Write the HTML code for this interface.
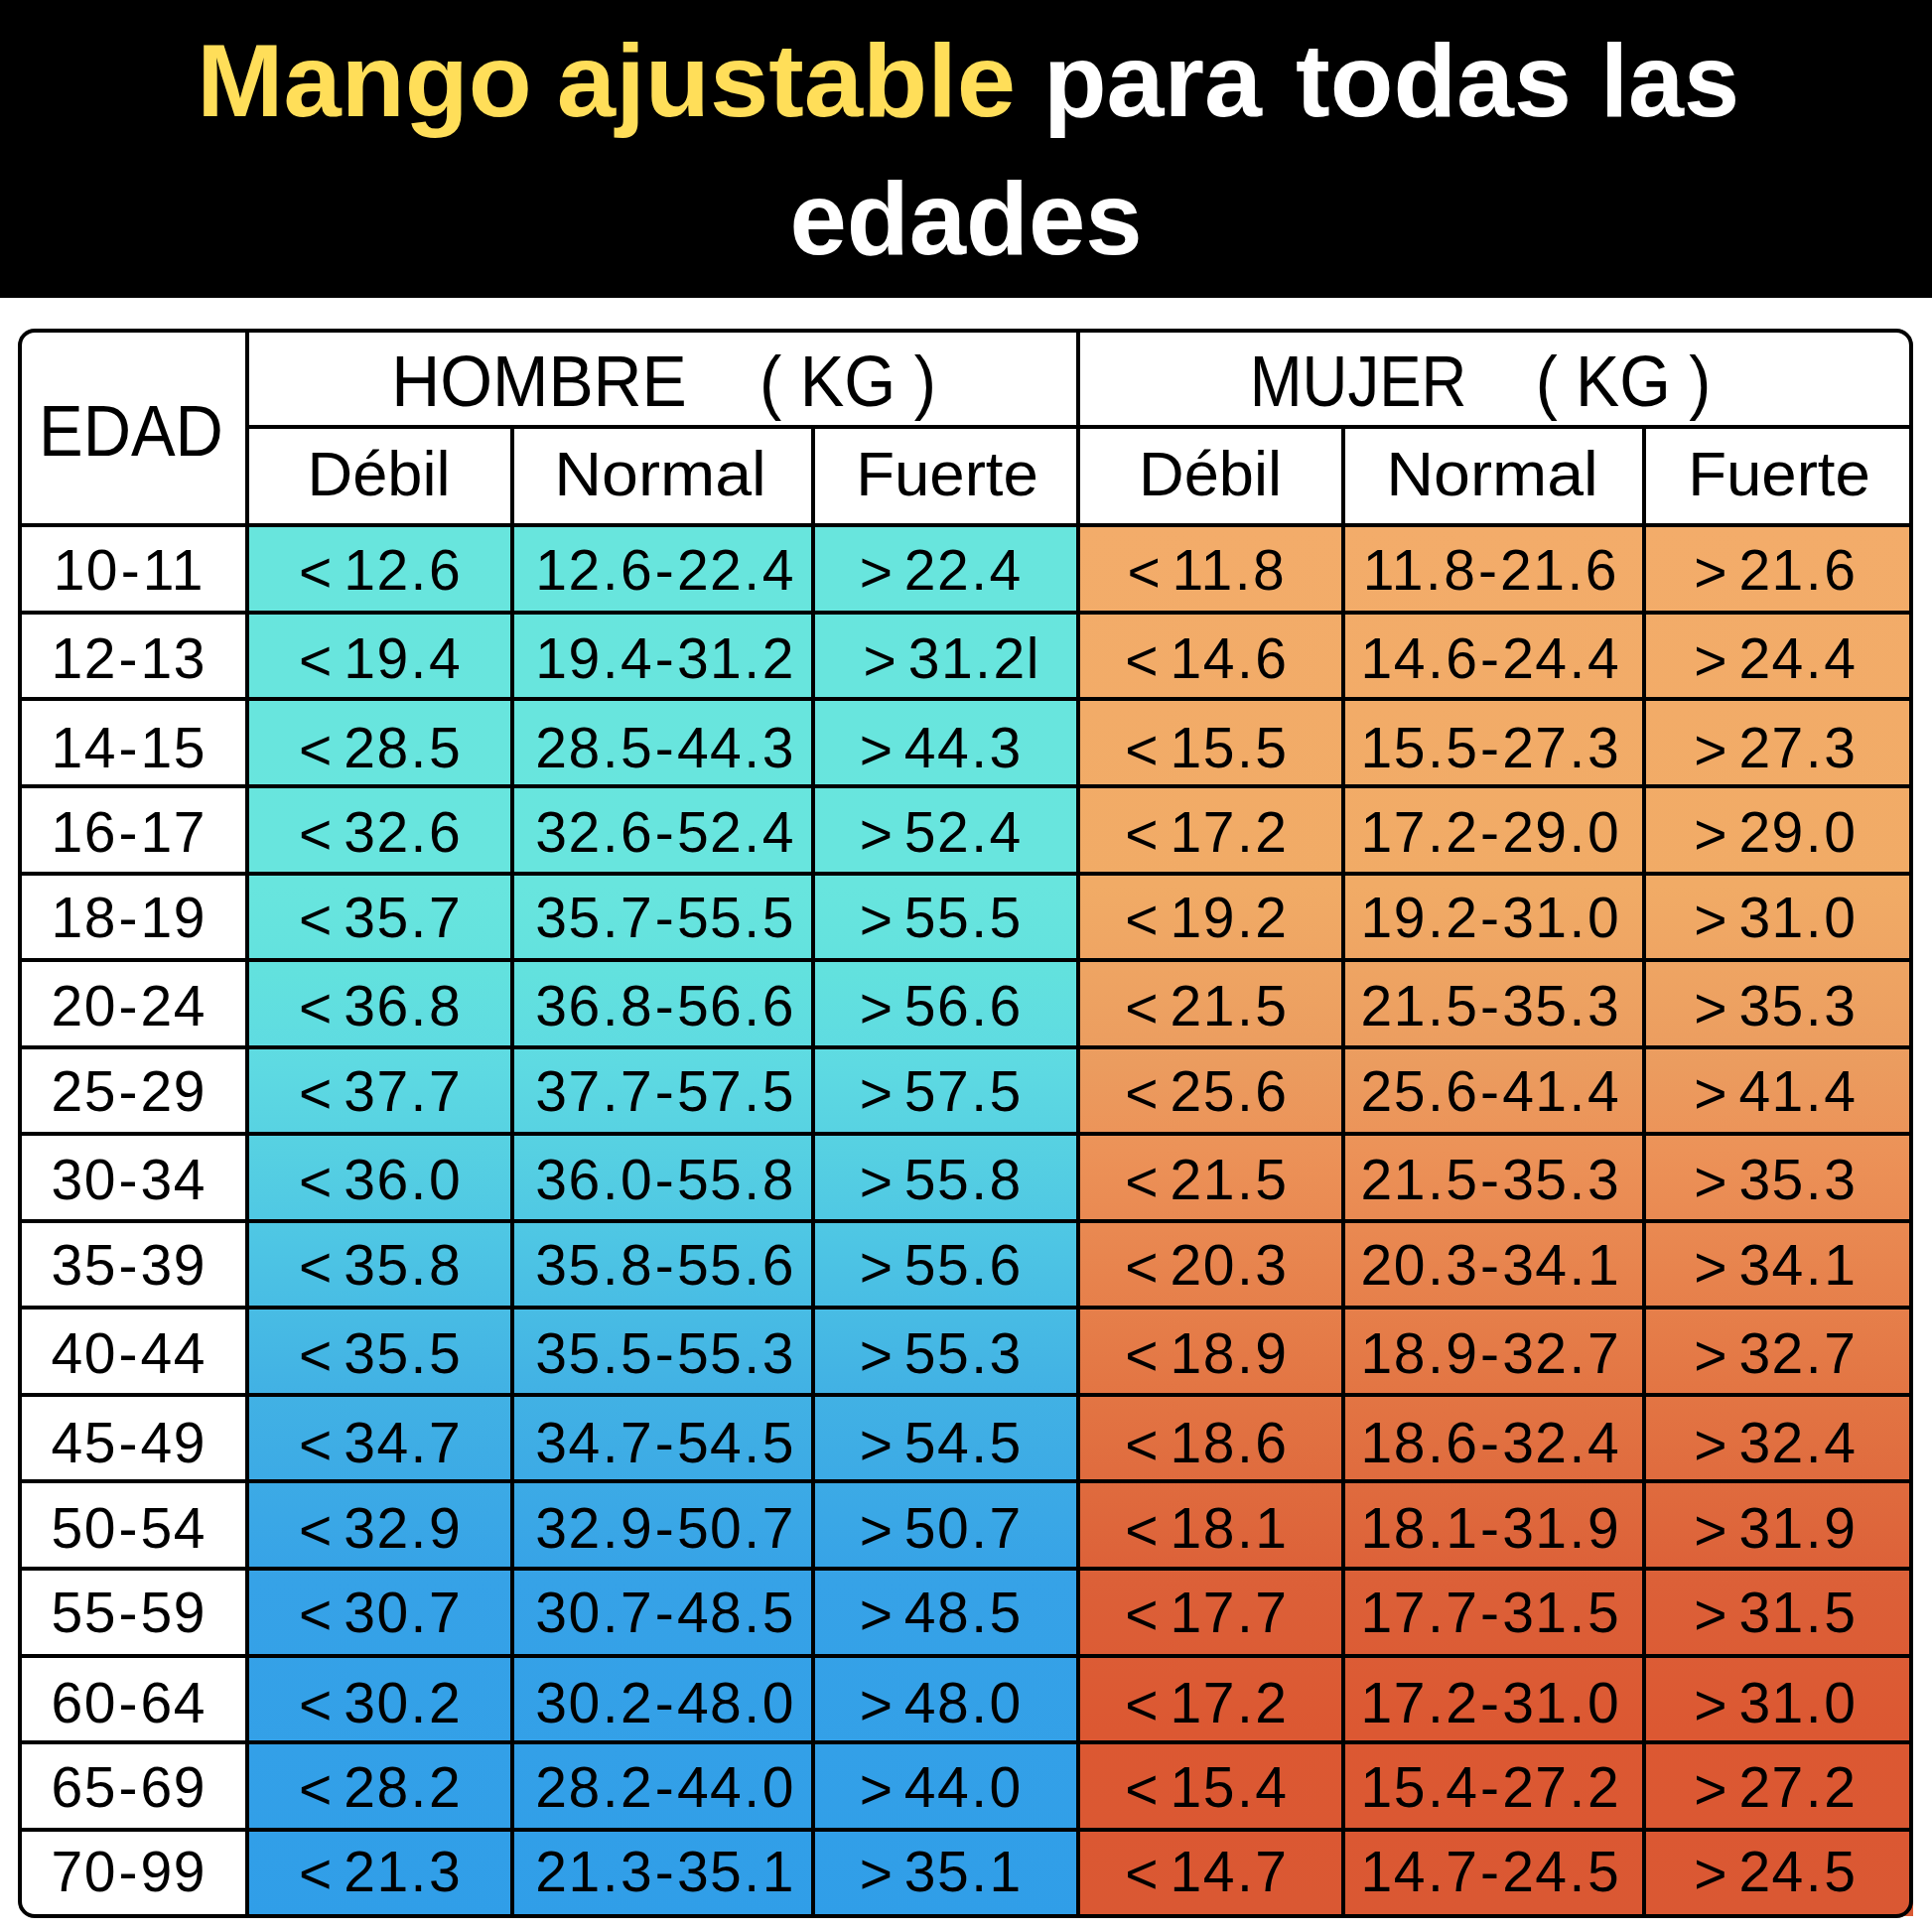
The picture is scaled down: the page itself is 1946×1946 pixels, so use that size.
<!DOCTYPE html><html><head><meta charset="utf-8"><style>
html,body{margin:0;padding:0;background:#fff;}
body{width:1946px;height:1946px;position:relative;overflow:hidden;font-family:"Liberation Sans",sans-serif;}
.t{position:absolute;text-align:center;white-space:pre;color:#000;transform-origin:50% 50%;}
.ln{position:absolute;background:#000;}
.p{margin:0 1.0px}.h{margin:0 1.6px}.sp{margin-right:-7px}.g{position:relative;top:2px}
</style></head><body>
<div style="position:absolute;left:0;top:0;width:1946px;height:299.5px;background:#000"></div>
<div style="position:absolute;left:17.5px;top:330.8px;width:1909.25px;height:1601.5px;border-radius:17px;overflow:hidden;background:#fff">
<div style="position:absolute;left:231.5px;top:198.49999999999994px;width:836.9000000000001px;height:1403.0px;background:linear-gradient(#68e5dd 0%,#68e5de 26%,#62e1de 32.3%,#5edae2 38.7%,#56d0e2 45%,#4ec6e4 51.2%,#42b2e4 61.7%,#36a2e7 76%,#309ee8 100%)"></div>
</div>
<div style="position:absolute;left:1085.9px;top:529.3px;width:840.8499999999999px;height:1401.0px;background:linear-gradient(#f3ac6a 0%,#f1ab66 26%,#eb9c5f 38.7%,#ec9258 45%,#e37644 61.7%,#dc6038 76%,#dc5832 86.6%,#da5833 100%)"></div>
<div style="position:absolute;left:17.5px;top:330.8px;width:1909.25px;height:1601.5px;border-radius:17px;box-sizing:border-box;border:4px solid #000"></div>
<div class="ln" style="left:247.00px;top:330.80px;width:4px;height:1601.50px"></div>
<div class="ln" style="left:1083.90px;top:330.80px;width:4px;height:1601.50px"></div>
<div class="ln" style="left:513.70px;top:430.10px;width:4px;height:1502.20px"></div>
<div class="ln" style="left:817.00px;top:430.10px;width:4px;height:1502.20px"></div>
<div class="ln" style="left:1350.60px;top:430.10px;width:4px;height:1502.20px"></div>
<div class="ln" style="left:1654.10px;top:430.10px;width:4px;height:1502.20px"></div>
<div class="ln" style="left:249.00px;top:428.10px;width:1677.75px;height:4px"></div>
<div class="ln" style="left:17.50px;top:527.30px;width:1909.25px;height:4px"></div>
<div class="ln" style="left:17.50px;top:614.86px;width:1909.25px;height:4px"></div>
<div class="ln" style="left:17.50px;top:702.42px;width:1909.25px;height:4px"></div>
<div class="ln" style="left:17.50px;top:789.99px;width:1909.25px;height:4px"></div>
<div class="ln" style="left:17.50px;top:877.55px;width:1909.25px;height:4px"></div>
<div class="ln" style="left:17.50px;top:965.11px;width:1909.25px;height:4px"></div>
<div class="ln" style="left:17.50px;top:1052.67px;width:1909.25px;height:4px"></div>
<div class="ln" style="left:17.50px;top:1140.24px;width:1909.25px;height:4px"></div>
<div class="ln" style="left:17.50px;top:1227.80px;width:1909.25px;height:4px"></div>
<div class="ln" style="left:17.50px;top:1315.36px;width:1909.25px;height:4px"></div>
<div class="ln" style="left:17.50px;top:1402.92px;width:1909.25px;height:4px"></div>
<div class="ln" style="left:17.50px;top:1490.49px;width:1909.25px;height:4px"></div>
<div class="ln" style="left:17.50px;top:1578.05px;width:1909.25px;height:4px"></div>
<div class="ln" style="left:17.50px;top:1665.61px;width:1909.25px;height:4px"></div>
<div class="ln" style="left:17.50px;top:1753.17px;width:1909.25px;height:4px"></div>
<div class="ln" style="left:17.50px;top:1840.74px;width:1909.25px;height:4px"></div>
<div class="t" style="left:92.85px;top:348.23px;width:900px;font-size:72.5px;line-height:72.5px;letter-spacing:0px;transform:scaleX(0.9354213755247015);">HOMBRE</div>
<div class="t" style="left:403.60px;top:348.23px;width:900px;font-size:72.5px;line-height:72.5px;letter-spacing:0px;transform:scaleX(0.9217391304347827);">( KG )</div>
<div class="t" style="left:917.90px;top:348.23px;width:900px;font-size:72.5px;line-height:72.5px;letter-spacing:0px;transform:scaleX(0.8758333333333336);">MUJER</div>
<div class="t" style="left:1184.70px;top:348.23px;width:900px;font-size:72.5px;line-height:72.5px;letter-spacing:0px;transform:scaleX(0.9141304347826089);">( KG )</div>
<div class="t" style="left:-317.90px;top:397.53px;width:900px;font-size:72.5px;line-height:72.5px;letter-spacing:0px;transform:scaleX(0.9227557411273487);">EDAD</div>
<div class="t" style="left:-68.45px;top:446.20px;width:900px;font-size:63.2px;line-height:63.2px;letter-spacing:0px;">Débil</div>
<div class="t" style="left:215.20px;top:446.20px;width:900px;font-size:63.2px;line-height:63.2px;letter-spacing:0px;transform:scaleX(1.049);">Normal</div>
<div class="t" style="left:504.30px;top:446.20px;width:900px;font-size:63.2px;line-height:63.2px;letter-spacing:0px;transform:scaleX(1.006);">Fuerte</div>
<div class="t" style="left:769.00px;top:446.20px;width:900px;font-size:63.2px;line-height:63.2px;letter-spacing:0px;">Débil</div>
<div class="t" style="left:1053.25px;top:446.20px;width:900px;font-size:63.2px;line-height:63.2px;letter-spacing:0px;transform:scaleX(1.049);">Normal</div>
<div class="t" style="left:1341.83px;top:446.20px;width:900px;font-size:63.2px;line-height:63.2px;letter-spacing:0px;transform:scaleX(1.006);">Fuerte</div>
<div class="t" style="left:-320.25px;top:545.53px;width:900px;font-size:57px;line-height:57px;letter-spacing:1.5px;">10<span class="h">-</span>11</div>
<div class="t" style="left:-66.90px;top:545.53px;width:900px;font-size:57px;line-height:57px;letter-spacing:1.5px;"><span class="g">&lt;</span><span class="sp"> </span>12<span class="p">.</span>6</div>
<div class="t" style="left:220.10px;top:545.53px;width:900px;font-size:57px;line-height:57px;letter-spacing:1.5px;">12<span class="p">.</span>6<span class="h">-</span>22<span class="p">.</span>4</div>
<div class="t" style="left:497.70px;top:545.53px;width:900px;font-size:57px;line-height:57px;letter-spacing:1.5px;"><span class="g">&gt;</span><span class="sp"> </span>22<span class="p">.</span>4</div>
<div class="t" style="left:765.40px;top:545.53px;width:900px;font-size:57px;line-height:57px;letter-spacing:1.5px;"><span class="g">&lt;</span><span class="sp"> </span>11<span class="p">.</span>8</div>
<div class="t" style="left:1051.35px;top:545.53px;width:900px;font-size:57px;line-height:57px;letter-spacing:1.5px;">11<span class="p">.</span>8<span class="h">-</span>21<span class="p">.</span>6</div>
<div class="t" style="left:1338.33px;top:545.53px;width:900px;font-size:57px;line-height:57px;letter-spacing:1.5px;"><span class="g">&gt;</span><span class="sp"> </span>21<span class="p">.</span>6</div>
<div class="t" style="left:-320.25px;top:635.39px;width:900px;font-size:57px;line-height:57px;letter-spacing:1.5px;">12<span class="h">-</span>13</div>
<div class="t" style="left:-66.90px;top:635.39px;width:900px;font-size:57px;line-height:57px;letter-spacing:1.5px;"><span class="g">&lt;</span><span class="sp"> </span>19<span class="p">.</span>4</div>
<div class="t" style="left:220.10px;top:635.39px;width:900px;font-size:57px;line-height:57px;letter-spacing:1.5px;">19<span class="p">.</span>4<span class="h">-</span>31<span class="p">.</span>2</div>
<div class="t" style="left:508.70px;top:635.39px;width:900px;font-size:57px;line-height:57px;letter-spacing:1.5px;"><span class="g">&gt;</span><span class="sp"> </span>31<span class="p">.</span>2l</div>
<div class="t" style="left:765.40px;top:635.39px;width:900px;font-size:57px;line-height:57px;letter-spacing:1.5px;"><span class="g">&lt;</span><span class="sp"> </span>14<span class="p">.</span>6</div>
<div class="t" style="left:1051.35px;top:635.39px;width:900px;font-size:57px;line-height:57px;letter-spacing:1.5px;">14<span class="p">.</span>6<span class="h">-</span>24<span class="p">.</span>4</div>
<div class="t" style="left:1338.33px;top:635.39px;width:900px;font-size:57px;line-height:57px;letter-spacing:1.5px;"><span class="g">&gt;</span><span class="sp"> </span>24<span class="p">.</span>4</div>
<div class="t" style="left:-320.25px;top:724.76px;width:900px;font-size:57px;line-height:57px;letter-spacing:1.5px;">14<span class="h">-</span>15</div>
<div class="t" style="left:-66.90px;top:724.76px;width:900px;font-size:57px;line-height:57px;letter-spacing:1.5px;"><span class="g">&lt;</span><span class="sp"> </span>28<span class="p">.</span>5</div>
<div class="t" style="left:220.10px;top:724.76px;width:900px;font-size:57px;line-height:57px;letter-spacing:1.5px;">28<span class="p">.</span>5<span class="h">-</span>44<span class="p">.</span>3</div>
<div class="t" style="left:497.70px;top:724.76px;width:900px;font-size:57px;line-height:57px;letter-spacing:1.5px;"><span class="g">&gt;</span><span class="sp"> </span>44<span class="p">.</span>3</div>
<div class="t" style="left:765.40px;top:724.76px;width:900px;font-size:57px;line-height:57px;letter-spacing:1.5px;"><span class="g">&lt;</span><span class="sp"> </span>15<span class="p">.</span>5</div>
<div class="t" style="left:1051.35px;top:724.76px;width:900px;font-size:57px;line-height:57px;letter-spacing:1.5px;">15<span class="p">.</span>5<span class="h">-</span>27<span class="p">.</span>3</div>
<div class="t" style="left:1338.33px;top:724.76px;width:900px;font-size:57px;line-height:57px;letter-spacing:1.5px;"><span class="g">&gt;</span><span class="sp"> </span>27<span class="p">.</span>3</div>
<div class="t" style="left:-320.25px;top:809.52px;width:900px;font-size:57px;line-height:57px;letter-spacing:1.5px;">16<span class="h">-</span>17</div>
<div class="t" style="left:-66.90px;top:809.52px;width:900px;font-size:57px;line-height:57px;letter-spacing:1.5px;"><span class="g">&lt;</span><span class="sp"> </span>32<span class="p">.</span>6</div>
<div class="t" style="left:220.10px;top:809.52px;width:900px;font-size:57px;line-height:57px;letter-spacing:1.5px;">32<span class="p">.</span>6<span class="h">-</span>52<span class="p">.</span>4</div>
<div class="t" style="left:497.70px;top:809.52px;width:900px;font-size:57px;line-height:57px;letter-spacing:1.5px;"><span class="g">&gt;</span><span class="sp"> </span>52<span class="p">.</span>4</div>
<div class="t" style="left:765.40px;top:809.52px;width:900px;font-size:57px;line-height:57px;letter-spacing:1.5px;"><span class="g">&lt;</span><span class="sp"> </span>17<span class="p">.</span>2</div>
<div class="t" style="left:1051.35px;top:809.52px;width:900px;font-size:57px;line-height:57px;letter-spacing:1.5px;">17<span class="p">.</span>2<span class="h">-</span>29<span class="p">.</span>0</div>
<div class="t" style="left:1338.33px;top:809.52px;width:900px;font-size:57px;line-height:57px;letter-spacing:1.5px;"><span class="g">&gt;</span><span class="sp"> </span>29<span class="p">.</span>0</div>
<div class="t" style="left:-320.25px;top:896.18px;width:900px;font-size:57px;line-height:57px;letter-spacing:1.5px;">18<span class="h">-</span>19</div>
<div class="t" style="left:-66.90px;top:896.18px;width:900px;font-size:57px;line-height:57px;letter-spacing:1.5px;"><span class="g">&lt;</span><span class="sp"> </span>35<span class="p">.</span>7</div>
<div class="t" style="left:220.10px;top:896.18px;width:900px;font-size:57px;line-height:57px;letter-spacing:1.5px;">35<span class="p">.</span>7<span class="h">-</span>55<span class="p">.</span>5</div>
<div class="t" style="left:497.70px;top:896.18px;width:900px;font-size:57px;line-height:57px;letter-spacing:1.5px;"><span class="g">&gt;</span><span class="sp"> </span>55<span class="p">.</span>5</div>
<div class="t" style="left:765.40px;top:896.18px;width:900px;font-size:57px;line-height:57px;letter-spacing:1.5px;"><span class="g">&lt;</span><span class="sp"> </span>19<span class="p">.</span>2</div>
<div class="t" style="left:1051.35px;top:896.18px;width:900px;font-size:57px;line-height:57px;letter-spacing:1.5px;">19<span class="p">.</span>2<span class="h">-</span>31<span class="p">.</span>0</div>
<div class="t" style="left:1338.33px;top:896.18px;width:900px;font-size:57px;line-height:57px;letter-spacing:1.5px;"><span class="g">&gt;</span><span class="sp"> </span>31<span class="p">.</span>0</div>
<div class="t" style="left:-320.25px;top:984.84px;width:900px;font-size:57px;line-height:57px;letter-spacing:1.5px;">20<span class="h">-</span>24</div>
<div class="t" style="left:-66.90px;top:984.84px;width:900px;font-size:57px;line-height:57px;letter-spacing:1.5px;"><span class="g">&lt;</span><span class="sp"> </span>36<span class="p">.</span>8</div>
<div class="t" style="left:220.10px;top:984.84px;width:900px;font-size:57px;line-height:57px;letter-spacing:1.5px;">36<span class="p">.</span>8<span class="h">-</span>56<span class="p">.</span>6</div>
<div class="t" style="left:497.70px;top:984.84px;width:900px;font-size:57px;line-height:57px;letter-spacing:1.5px;"><span class="g">&gt;</span><span class="sp"> </span>56<span class="p">.</span>6</div>
<div class="t" style="left:765.40px;top:984.84px;width:900px;font-size:57px;line-height:57px;letter-spacing:1.5px;"><span class="g">&lt;</span><span class="sp"> </span>21<span class="p">.</span>5</div>
<div class="t" style="left:1051.35px;top:984.84px;width:900px;font-size:57px;line-height:57px;letter-spacing:1.5px;">21<span class="p">.</span>5<span class="h">-</span>35<span class="p">.</span>3</div>
<div class="t" style="left:1338.33px;top:984.84px;width:900px;font-size:57px;line-height:57px;letter-spacing:1.5px;"><span class="g">&gt;</span><span class="sp"> </span>35<span class="p">.</span>3</div>
<div class="t" style="left:-320.25px;top:1070.81px;width:900px;font-size:57px;line-height:57px;letter-spacing:1.5px;">25<span class="h">-</span>29</div>
<div class="t" style="left:-66.90px;top:1070.81px;width:900px;font-size:57px;line-height:57px;letter-spacing:1.5px;"><span class="g">&lt;</span><span class="sp"> </span>37<span class="p">.</span>7</div>
<div class="t" style="left:220.10px;top:1070.81px;width:900px;font-size:57px;line-height:57px;letter-spacing:1.5px;">37<span class="p">.</span>7<span class="h">-</span>57<span class="p">.</span>5</div>
<div class="t" style="left:497.70px;top:1070.81px;width:900px;font-size:57px;line-height:57px;letter-spacing:1.5px;"><span class="g">&gt;</span><span class="sp"> </span>57<span class="p">.</span>5</div>
<div class="t" style="left:765.40px;top:1070.81px;width:900px;font-size:57px;line-height:57px;letter-spacing:1.5px;"><span class="g">&lt;</span><span class="sp"> </span>25<span class="p">.</span>6</div>
<div class="t" style="left:1051.35px;top:1070.81px;width:900px;font-size:57px;line-height:57px;letter-spacing:1.5px;">25<span class="p">.</span>6<span class="h">-</span>41<span class="p">.</span>4</div>
<div class="t" style="left:1338.33px;top:1070.81px;width:900px;font-size:57px;line-height:57px;letter-spacing:1.5px;"><span class="g">&gt;</span><span class="sp"> </span>41<span class="p">.</span>4</div>
<div class="t" style="left:-320.25px;top:1160.27px;width:900px;font-size:57px;line-height:57px;letter-spacing:1.5px;">30<span class="h">-</span>34</div>
<div class="t" style="left:-66.90px;top:1160.27px;width:900px;font-size:57px;line-height:57px;letter-spacing:1.5px;"><span class="g">&lt;</span><span class="sp"> </span>36<span class="p">.</span>0</div>
<div class="t" style="left:220.10px;top:1160.27px;width:900px;font-size:57px;line-height:57px;letter-spacing:1.5px;">36<span class="p">.</span>0<span class="h">-</span>55<span class="p">.</span>8</div>
<div class="t" style="left:497.70px;top:1160.27px;width:900px;font-size:57px;line-height:57px;letter-spacing:1.5px;"><span class="g">&gt;</span><span class="sp"> </span>55<span class="p">.</span>8</div>
<div class="t" style="left:765.40px;top:1160.27px;width:900px;font-size:57px;line-height:57px;letter-spacing:1.5px;"><span class="g">&lt;</span><span class="sp"> </span>21<span class="p">.</span>5</div>
<div class="t" style="left:1051.35px;top:1160.27px;width:900px;font-size:57px;line-height:57px;letter-spacing:1.5px;">21<span class="p">.</span>5<span class="h">-</span>35<span class="p">.</span>3</div>
<div class="t" style="left:1338.33px;top:1160.27px;width:900px;font-size:57px;line-height:57px;letter-spacing:1.5px;"><span class="g">&gt;</span><span class="sp"> </span>35<span class="p">.</span>3</div>
<div class="t" style="left:-320.25px;top:1246.43px;width:900px;font-size:57px;line-height:57px;letter-spacing:1.5px;">35<span class="h">-</span>39</div>
<div class="t" style="left:-66.90px;top:1246.43px;width:900px;font-size:57px;line-height:57px;letter-spacing:1.5px;"><span class="g">&lt;</span><span class="sp"> </span>35<span class="p">.</span>8</div>
<div class="t" style="left:220.10px;top:1246.43px;width:900px;font-size:57px;line-height:57px;letter-spacing:1.5px;">35<span class="p">.</span>8<span class="h">-</span>55<span class="p">.</span>6</div>
<div class="t" style="left:497.70px;top:1246.43px;width:900px;font-size:57px;line-height:57px;letter-spacing:1.5px;"><span class="g">&gt;</span><span class="sp"> </span>55<span class="p">.</span>6</div>
<div class="t" style="left:765.40px;top:1246.43px;width:900px;font-size:57px;line-height:57px;letter-spacing:1.5px;"><span class="g">&lt;</span><span class="sp"> </span>20<span class="p">.</span>3</div>
<div class="t" style="left:1051.35px;top:1246.43px;width:900px;font-size:57px;line-height:57px;letter-spacing:1.5px;">20<span class="p">.</span>3<span class="h">-</span>34<span class="p">.</span>1</div>
<div class="t" style="left:1338.33px;top:1246.43px;width:900px;font-size:57px;line-height:57px;letter-spacing:1.5px;"><span class="g">&gt;</span><span class="sp"> </span>34<span class="p">.</span>1</div>
<div class="t" style="left:-320.25px;top:1335.39px;width:900px;font-size:57px;line-height:57px;letter-spacing:1.5px;">40<span class="h">-</span>44</div>
<div class="t" style="left:-66.90px;top:1335.39px;width:900px;font-size:57px;line-height:57px;letter-spacing:1.5px;"><span class="g">&lt;</span><span class="sp"> </span>35<span class="p">.</span>5</div>
<div class="t" style="left:220.10px;top:1335.39px;width:900px;font-size:57px;line-height:57px;letter-spacing:1.5px;">35<span class="p">.</span>5<span class="h">-</span>55<span class="p">.</span>3</div>
<div class="t" style="left:497.70px;top:1335.39px;width:900px;font-size:57px;line-height:57px;letter-spacing:1.5px;"><span class="g">&gt;</span><span class="sp"> </span>55<span class="p">.</span>3</div>
<div class="t" style="left:765.40px;top:1335.39px;width:900px;font-size:57px;line-height:57px;letter-spacing:1.5px;"><span class="g">&lt;</span><span class="sp"> </span>18<span class="p">.</span>9</div>
<div class="t" style="left:1051.35px;top:1335.39px;width:900px;font-size:57px;line-height:57px;letter-spacing:1.5px;">18<span class="p">.</span>9<span class="h">-</span>32<span class="p">.</span>7</div>
<div class="t" style="left:1338.33px;top:1335.39px;width:900px;font-size:57px;line-height:57px;letter-spacing:1.5px;"><span class="g">&gt;</span><span class="sp"> </span>32<span class="p">.</span>7</div>
<div class="t" style="left:-320.25px;top:1425.16px;width:900px;font-size:57px;line-height:57px;letter-spacing:1.5px;">45<span class="h">-</span>49</div>
<div class="t" style="left:-66.90px;top:1425.16px;width:900px;font-size:57px;line-height:57px;letter-spacing:1.5px;"><span class="g">&lt;</span><span class="sp"> </span>34<span class="p">.</span>7</div>
<div class="t" style="left:220.10px;top:1425.16px;width:900px;font-size:57px;line-height:57px;letter-spacing:1.5px;">34<span class="p">.</span>7<span class="h">-</span>54<span class="p">.</span>5</div>
<div class="t" style="left:497.70px;top:1425.16px;width:900px;font-size:57px;line-height:57px;letter-spacing:1.5px;"><span class="g">&gt;</span><span class="sp"> </span>54<span class="p">.</span>5</div>
<div class="t" style="left:765.40px;top:1425.16px;width:900px;font-size:57px;line-height:57px;letter-spacing:1.5px;"><span class="g">&lt;</span><span class="sp"> </span>18<span class="p">.</span>6</div>
<div class="t" style="left:1051.35px;top:1425.16px;width:900px;font-size:57px;line-height:57px;letter-spacing:1.5px;">18<span class="p">.</span>6<span class="h">-</span>32<span class="p">.</span>4</div>
<div class="t" style="left:1338.33px;top:1425.16px;width:900px;font-size:57px;line-height:57px;letter-spacing:1.5px;"><span class="g">&gt;</span><span class="sp"> </span>32<span class="p">.</span>4</div>
<div class="t" style="left:-320.25px;top:1511.32px;width:900px;font-size:57px;line-height:57px;letter-spacing:1.5px;">50<span class="h">-</span>54</div>
<div class="t" style="left:-66.90px;top:1511.32px;width:900px;font-size:57px;line-height:57px;letter-spacing:1.5px;"><span class="g">&lt;</span><span class="sp"> </span>32<span class="p">.</span>9</div>
<div class="t" style="left:220.10px;top:1511.32px;width:900px;font-size:57px;line-height:57px;letter-spacing:1.5px;">32<span class="p">.</span>9<span class="h">-</span>50<span class="p">.</span>7</div>
<div class="t" style="left:497.70px;top:1511.32px;width:900px;font-size:57px;line-height:57px;letter-spacing:1.5px;"><span class="g">&gt;</span><span class="sp"> </span>50<span class="p">.</span>7</div>
<div class="t" style="left:765.40px;top:1511.32px;width:900px;font-size:57px;line-height:57px;letter-spacing:1.5px;"><span class="g">&lt;</span><span class="sp"> </span>18<span class="p">.</span>1</div>
<div class="t" style="left:1051.35px;top:1511.32px;width:900px;font-size:57px;line-height:57px;letter-spacing:1.5px;">18<span class="p">.</span>1<span class="h">-</span>31<span class="p">.</span>9</div>
<div class="t" style="left:1338.33px;top:1511.32px;width:900px;font-size:57px;line-height:57px;letter-spacing:1.5px;"><span class="g">&gt;</span><span class="sp"> </span>31<span class="p">.</span>9</div>
<div class="t" style="left:-320.25px;top:1596.18px;width:900px;font-size:57px;line-height:57px;letter-spacing:1.5px;">55<span class="h">-</span>59</div>
<div class="t" style="left:-66.90px;top:1596.18px;width:900px;font-size:57px;line-height:57px;letter-spacing:1.5px;"><span class="g">&lt;</span><span class="sp"> </span>30<span class="p">.</span>7</div>
<div class="t" style="left:220.10px;top:1596.18px;width:900px;font-size:57px;line-height:57px;letter-spacing:1.5px;">30<span class="p">.</span>7<span class="h">-</span>48<span class="p">.</span>5</div>
<div class="t" style="left:497.70px;top:1596.18px;width:900px;font-size:57px;line-height:57px;letter-spacing:1.5px;"><span class="g">&gt;</span><span class="sp"> </span>48<span class="p">.</span>5</div>
<div class="t" style="left:765.40px;top:1596.18px;width:900px;font-size:57px;line-height:57px;letter-spacing:1.5px;"><span class="g">&lt;</span><span class="sp"> </span>17<span class="p">.</span>7</div>
<div class="t" style="left:1051.35px;top:1596.18px;width:900px;font-size:57px;line-height:57px;letter-spacing:1.5px;">17<span class="p">.</span>7<span class="h">-</span>31<span class="p">.</span>5</div>
<div class="t" style="left:1338.33px;top:1596.18px;width:900px;font-size:57px;line-height:57px;letter-spacing:1.5px;"><span class="g">&gt;</span><span class="sp"> </span>31<span class="p">.</span>5</div>
<div class="t" style="left:-320.25px;top:1686.64px;width:900px;font-size:57px;line-height:57px;letter-spacing:1.5px;">60<span class="h">-</span>64</div>
<div class="t" style="left:-66.90px;top:1686.64px;width:900px;font-size:57px;line-height:57px;letter-spacing:1.5px;"><span class="g">&lt;</span><span class="sp"> </span>30<span class="p">.</span>2</div>
<div class="t" style="left:220.10px;top:1686.64px;width:900px;font-size:57px;line-height:57px;letter-spacing:1.5px;">30<span class="p">.</span>2<span class="h">-</span>48<span class="p">.</span>0</div>
<div class="t" style="left:497.70px;top:1686.64px;width:900px;font-size:57px;line-height:57px;letter-spacing:1.5px;"><span class="g">&gt;</span><span class="sp"> </span>48<span class="p">.</span>0</div>
<div class="t" style="left:765.40px;top:1686.64px;width:900px;font-size:57px;line-height:57px;letter-spacing:1.5px;"><span class="g">&lt;</span><span class="sp"> </span>17<span class="p">.</span>2</div>
<div class="t" style="left:1051.35px;top:1686.64px;width:900px;font-size:57px;line-height:57px;letter-spacing:1.5px;">17<span class="p">.</span>2<span class="h">-</span>31<span class="p">.</span>0</div>
<div class="t" style="left:1338.33px;top:1686.64px;width:900px;font-size:57px;line-height:57px;letter-spacing:1.5px;"><span class="g">&gt;</span><span class="sp"> </span>31<span class="p">.</span>0</div>
<div class="t" style="left:-320.25px;top:1771.51px;width:900px;font-size:57px;line-height:57px;letter-spacing:1.5px;">65<span class="h">-</span>69</div>
<div class="t" style="left:-66.90px;top:1771.51px;width:900px;font-size:57px;line-height:57px;letter-spacing:1.5px;"><span class="g">&lt;</span><span class="sp"> </span>28<span class="p">.</span>2</div>
<div class="t" style="left:220.10px;top:1771.51px;width:900px;font-size:57px;line-height:57px;letter-spacing:1.5px;">28<span class="p">.</span>2<span class="h">-</span>44<span class="p">.</span>0</div>
<div class="t" style="left:497.70px;top:1771.51px;width:900px;font-size:57px;line-height:57px;letter-spacing:1.5px;"><span class="g">&gt;</span><span class="sp"> </span>44<span class="p">.</span>0</div>
<div class="t" style="left:765.40px;top:1771.51px;width:900px;font-size:57px;line-height:57px;letter-spacing:1.5px;"><span class="g">&lt;</span><span class="sp"> </span>15<span class="p">.</span>4</div>
<div class="t" style="left:1051.35px;top:1771.51px;width:900px;font-size:57px;line-height:57px;letter-spacing:1.5px;">15<span class="p">.</span>4<span class="h">-</span>27<span class="p">.</span>2</div>
<div class="t" style="left:1338.33px;top:1771.51px;width:900px;font-size:57px;line-height:57px;letter-spacing:1.5px;"><span class="g">&gt;</span><span class="sp"> </span>27<span class="p">.</span>2</div>
<div class="t" style="left:-320.25px;top:1857.47px;width:900px;font-size:57px;line-height:57px;letter-spacing:1.5px;">70<span class="h">-</span>99</div>
<div class="t" style="left:-66.90px;top:1857.47px;width:900px;font-size:57px;line-height:57px;letter-spacing:1.5px;"><span class="g">&lt;</span><span class="sp"> </span>21<span class="p">.</span>3</div>
<div class="t" style="left:220.10px;top:1857.47px;width:900px;font-size:57px;line-height:57px;letter-spacing:1.5px;">21<span class="p">.</span>3<span class="h">-</span>35<span class="p">.</span>1</div>
<div class="t" style="left:497.70px;top:1857.47px;width:900px;font-size:57px;line-height:57px;letter-spacing:1.5px;"><span class="g">&gt;</span><span class="sp"> </span>35<span class="p">.</span>1</div>
<div class="t" style="left:765.40px;top:1857.47px;width:900px;font-size:57px;line-height:57px;letter-spacing:1.5px;"><span class="g">&lt;</span><span class="sp"> </span>14<span class="p">.</span>7</div>
<div class="t" style="left:1051.35px;top:1857.47px;width:900px;font-size:57px;line-height:57px;letter-spacing:1.5px;">14<span class="p">.</span>7<span class="h">-</span>24<span class="p">.</span>5</div>
<div class="t" style="left:1338.33px;top:1857.47px;width:900px;font-size:57px;line-height:57px;letter-spacing:1.5px;"><span class="g">&gt;</span><span class="sp"> </span>24<span class="p">.</span>5</div>
<div class="t" style="left:-83.25px;top:28.54px;width:900px;font-size:104.5px;line-height:104.5px;letter-spacing:0px;transform:scaleX(1.0021538461538464);font-weight:bold;color:#ffde59;">Mango</div>
<div class="t" style="left:342.45px;top:28.54px;width:900px;font-size:104.5px;line-height:104.5px;letter-spacing:0px;transform:scaleX(1.0204035874439463);font-weight:bold;color:#ffde59;">ajustable</div>
<div class="t" style="left:710.75px;top:28.54px;width:900px;font-size:104.5px;line-height:104.5px;letter-spacing:0px;transform:scaleX(0.9967441860465125);font-weight:bold;color:#fff;">para</div>
<div class="t" style="left:993.90px;top:28.54px;width:900px;font-size:104.5px;line-height:104.5px;letter-spacing:0px;transform:scaleX(0.9970802919708031);font-weight:bold;color:#fff;">todas</div>
<div class="t" style="left:1232.35px;top:28.54px;width:900px;font-size:104.5px;line-height:104.5px;letter-spacing:0px;transform:scaleX(0.9634328358208966);font-weight:bold;color:#fff;">las</div>
<div class="t" style="left:523.30px;top:167.54px;width:900px;font-size:104.5px;line-height:104.5px;letter-spacing:0px;transform:scaleX(0.9863636363636364);font-weight:bold;color:#fff;">edades</div>
</body></html>
